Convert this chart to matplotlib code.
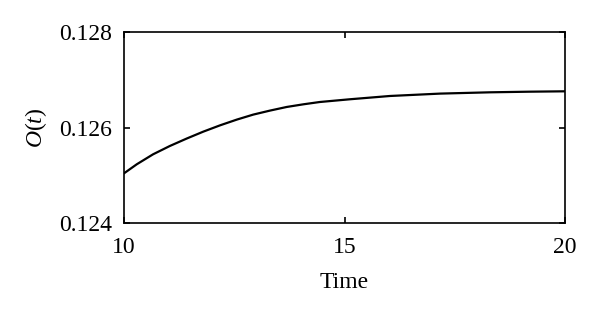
import matplotlib
matplotlib.use("Agg")
import matplotlib.pyplot as plt

t = [10.0, 10.29, 10.66, 11.04, 11.42, 11.8, 12.18, 12.56, 12.93, 13.31, 13.69, 14.07,
     14.44, 15.12, 16.03, 17.17, 18.3, 19.2, 20.0]
o = [0.12504, 0.12523, 0.125439, 0.125613, 0.125768, 0.125914, 0.126046, 0.126166,
     0.12627, 0.126354, 0.12643, 0.126486, 0.126534, 0.126591, 0.12666, 0.12671,
     0.126737, 0.12675, 0.126758]

xticks = [10, 15, 20]
yticks = [0.124, 0.126, 0.128]
yticklabels = ["0.124", "0.126", "0.128"]

plt.rcParams['font.family'] = ['Liberation Serif', 'DejaVu Serif']
plt.rcParams['mathtext.fontset'] = 'custom'
plt.rcParams['mathtext.rm'] = 'Liberation Serif'
plt.rcParams['mathtext.it'] = 'Liberation Serif:italic'

fig = plt.figure(figsize=(6.0, 3.14), dpi=100)
ax = fig.add_axes([124/600, 1 - 223/314, 441/600, 191/314])

ax.plot(t, o, color='black', lw=1.6, solid_joinstyle='round')

ax.set_xlim(10, 20)
ax.set_ylim(0.124, 0.128)
ax.set_xticks(xticks)
ax.set_yticks(yticks)
ax.set_yticklabels(yticklabels)
ax.tick_params(direction='in', top=True, right=True, length=4, width=1.2, labelsize=17)
ax.tick_params(axis='x', pad=10)
ax.tick_params(axis='y', pad=8.5)
for s in ax.spines.values():
    s.set_linewidth(1.2)
ax.set_xlabel('Time', fontsize=17, labelpad=10)
ax.set_ylabel('$O(t)$', fontsize=17, labelpad=7)

fig.savefig('out.png', dpi=100)
